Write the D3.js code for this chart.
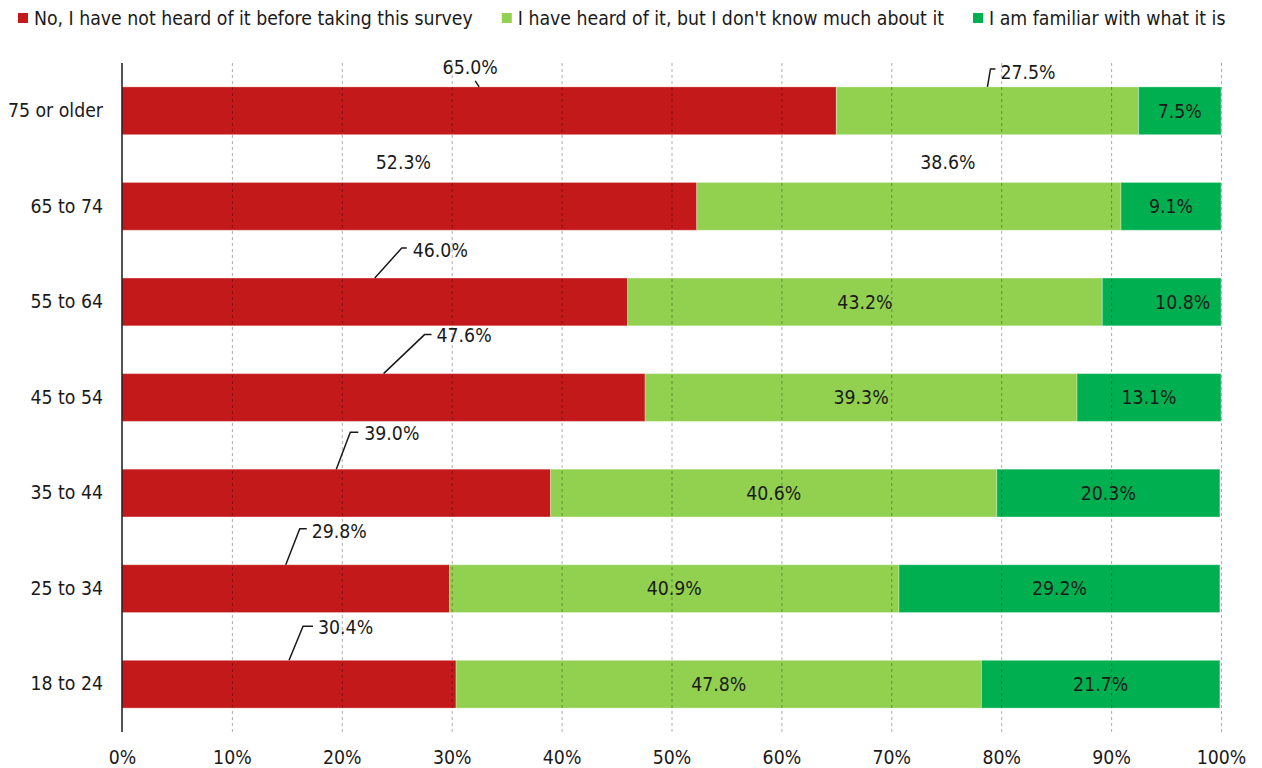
<!DOCTYPE html>
<html>
<head>
<meta charset="utf-8">
<script src="https://cdn.jsdelivr.net/npm/d3@7"></script>
<style>
  html, body { margin: 0; padding: 0; background: #fff; }
  svg { display: block; font-family: "DejaVu Sans Condensed", "DejaVu Sans", sans-serif; font-stretch: condensed; }
</style>
</head>
<body>
<svg id="chart" width="1262" height="768"></svg>
<script>
// ---- data ----
const categories = ["75 or older", "65 to 74", "55 to 64", "45 to 54", "35 to 44", "25 to 34", "18 to 24"];
const seriesNames = [
  "No, I have not heard of it before taking this survey",
  "I have heard of it, but I don't know much about it",
  "I am familiar with what it is"
];
const notHeard    = [65.0, 52.3, 46.0, 47.6, 39.0, 29.8, 30.4];
const heardLittle = [27.5, 38.6, 43.2, 39.3, 40.6, 40.9, 47.8];
const familiar    = [7.5, 9.1, 10.8, 13.1, 20.3, 29.2, 21.7];
const tickValues  = [0, 10, 20, 30, 40, 50, 60, 70, 80, 90, 100];
const tickLabels  = ["0%", "10%", "20%", "30%", "40%", "50%", "60%", "70%", "80%", "90%", "100%"];

// ---- styling / layout ----
const colors = ["#C4191B", "#92D050", "#00B050"];
const fontSize = 19.3;
// outside-label placements (px offsets from segment centre top); leader = [elbow, end]
const callouts = {
  "75 or older|0": { tx: -9, ty: -20, anchor: "middle", leader: [[-4, -6]] },
  "75 or older|1": { tx: 13, ty: -15, anchor: "start", leader: [[3, -18], [8, -18]] },
  "65 to 74|0":    { tx: -6, ty: -20, anchor: "middle", leader: null },
  "65 to 74|1":    { tx: 39, ty: -20, anchor: "middle", leader: null },
  "55 to 64|0":    { tx: 38, ty: -28, anchor: "start", leader: [[27, -30], [32, -30]] },
  "45 to 54|0":    { tx: 53, ty: -38, anchor: "start", leader: [[41, -39], [48, -39]] },
  "35 to 44|0":    { tx: 28, ty: -36, anchor: "start", leader: [[14, -37], [22, -37]] },
  "25 to 34|0":    { tx: 26, ty: -34, anchor: "start", leader: [[14, -36], [21, -36]] },
  "18 to 24|0":    { tx: 29, ty: -33, anchor: "start", leader: [[14, -34], [24, -34]] }
};
const insideShift = { "55 to 64|2": 21 };

const svg = d3.select("#chart");
const x = d3.scaleLinear().domain([0, 100]).range([122, 1221]);
const y = d3.scaleBand().domain(categories).range([63, 732]).paddingInner(0.5).paddingOuter(0.25);

const seriesValues = [notHeard, heardLittle, familiar];
const rows = categories.map((c, i) => {
  let acc = 0;
  return seriesValues.map((vals, s) => {
    const seg = { cat: c, s, v: vals[i], x0: acc, x1: acc + vals[i] };
    acc += vals[i];
    return seg;
  });
});
const segs = rows.flat();

// bars
svg.append("g").selectAll("rect").data(segs).join("rect")
  .attr("x", d => x(d.x0))
  .attr("y", d => y(d.cat))
  .attr("width", d => x(d.x1) - x(d.x0))
  .attr("height", y.bandwidth())
  .attr("fill", d => colors[d.s])
  .attr("stroke", "rgba(255,255,255,0.3)")
  .attr("stroke-width", 1);

// gridlines (on top, translucent)
svg.append("g").selectAll("line").data(tickValues.filter(t => t > 0)).join("line")
  .attr("x1", d => x(d) + 0.5).attr("x2", d => x(d) + 0.5)
  .attr("y1", 63).attr("y2", 732)
  .attr("stroke", "#000").attr("stroke-opacity", 0.32)
  .attr("stroke-width", 1).attr("stroke-dasharray", "3,3");

// x axis labels
const xAxis = d3.axisBottom(x).tickValues(tickValues).tickFormat((d, i) => tickLabels[i]).tickSize(0).tickPadding(0);
const gx = svg.append("g").attr("transform", "translate(0,751)").call(xAxis);
gx.select(".domain").remove();
gx.selectAll("text").attr("font-size", fontSize).attr("fill", "#1a1a1a")
  .attr("font-family", "DejaVu Sans Condensed, DejaVu Sans, sans-serif").attr("dy", "0.32em").attr("y", 7);

// y axis
const yAxis = d3.axisLeft(y).tickSize(0).tickPadding(19);
const gy = svg.append("g").attr("transform", "translate(122,0)").call(yAxis);
gy.select(".domain").attr("stroke", "#1a1a1a").attr("stroke-width", 1.5).attr("d", "M0,63V732");
gy.selectAll("text").attr("font-size", fontSize).attr("fill", "#1a1a1a")
  .attr("font-family", "DejaVu Sans Condensed, DejaVu Sans, sans-serif");

// value labels
const fmt = v => v.toFixed(1) + "%";
const lbl = svg.append("g").attr("font-size", fontSize).attr("fill", "#1a1a1a");
segs.forEach(d => {
  const key = d.cat + "|" + d.s;
  const cx = x((d.x0 + d.x1) / 2);
  const top = y(d.cat);
  const co = callouts[key];
  if (co) {
    if (co.leader) {
      const pts = [[cx, top]].concat(co.leader.map(p => [cx + p[0], top + p[1]]));
      lbl.append("path").attr("d", d3.line()(pts))
        .attr("fill", "none").attr("stroke", "#1a1a1a").attr("stroke-width", 1.5);
    }
    lbl.append("text").attr("x", cx + co.tx).attr("y", top + co.ty)
      .attr("text-anchor", co.anchor).attr("dy", "0.35em").text(fmt(d.v));
  } else {
    lbl.append("text").attr("x", cx + (insideShift[key] || 0)).attr("y", top + y.bandwidth() / 2)
      .attr("text-anchor", "middle").attr("dy", "0.35em").text(fmt(d.v));
  }
});

// legend
const leg = svg.append("g").attr("font-size", fontSize).attr("fill", "#1a1a1a");
let lx = 18;
seriesNames.forEach((name, i) => {
  leg.append("rect").attr("x", lx).attr("y", 13).attr("width", 10).attr("height", 10).attr("fill", colors[i]);
  const t = leg.append("text").attr("x", lx + 16).attr("y", 18).attr("dy", "0.35em").text(name);
  const w = t.node().getComputedTextLength();
  lx += 16 + w + 29;
});
</script>
</body>
</html>
